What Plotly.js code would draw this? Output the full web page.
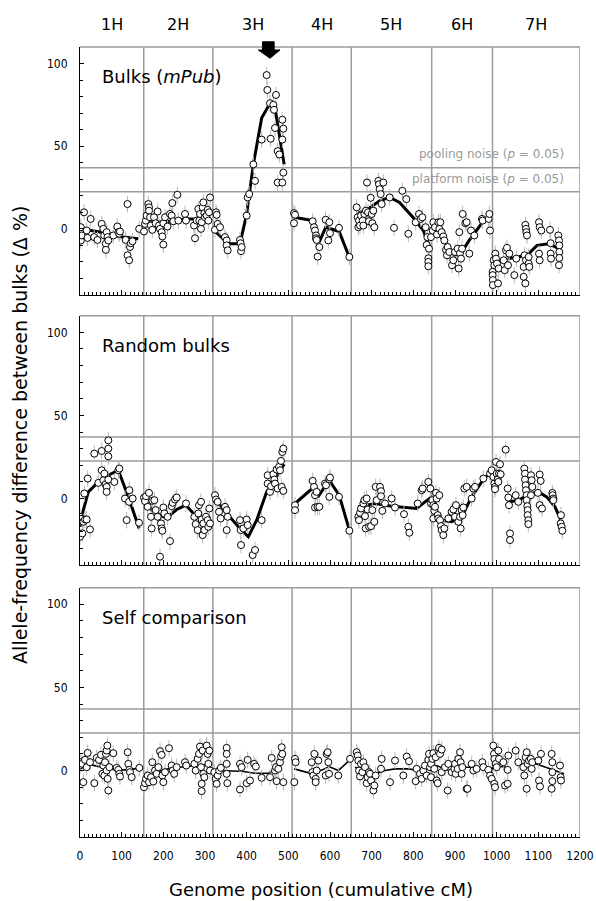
<!DOCTYPE html>
<html><head><meta charset="utf-8">
<script src="https://cdn.plot.ly/plotly-3.0.1.min.js"></script>
<style>html,body{margin:0;padding:0;background:#fff}</style>
</head><body><div id="chart" style="width:596px;height:901px"></div>
<script>
// ---------- data ----------
const chromBounds = [0,153,319,509,651,844,990,1200];
const chromNames = ['1H','2H','3H','4H','5H','6H','7H'];
const panelNames = ['Bulks (<i>mPub</i>)','Random bulks','Self comparison'];
const platformNoise = 22.5;
const poolingNoise = 37;
const peakArrowX = 456;

// Panel 1: bulks (mPub)
const bulkX = [0,2,2,4,9.6,16,18,25.6,34,42,52,56,58,62,62,64,66,68,80,89.6,92,94,96,109.6,114,114,118,120,122,126,142,
 153.6,156,158,160,164,165.6,165.6,168,170,173.6,177.6,181.6,186.4,189.6,192,196,197.6,200,200,204,210,216,220,221.6,224,233.6,236,252,254.4,273.6,276,280,284,286.4,288,290.4,292,294.4,296,298.4,300,304,306.4,308,309.6,312,
 324,326.4,328,330.4,336,348,352,352,354.4,384,385.6,386.4,388,400,402.4,406,416,420,436,448,449.6,456,457.6,464,465.6,468,470.4,474.4,474.4,478.4,485.6,485.6,485.6,488,488,
 513.6,513.6,516,558.4,561.6,564,566.4,566.4,568,570.4,574.4,589.6,596,598.4,600,621.6,646.4,
 664,666.4,668,669.6,672,674.4,678.4,680,682.4,686.4,688.8,691.2,693.6,697.6,700,701.6,704,706.4,716,717.6,719.2,721.6,724,728,743.2,753.6,773.6,783.2,788,805.6,813.6,817.6,821.6,829.6,832,833.6,836,836,836,837.6,
 842.4,846.4,848,852,856.8,860,862.4,864.8,868,872,874.4,878.4,880.8,882.4,886.4,892.8,896,900,906.4,908.8,910.4,912,914.4,916.8,918.4,924.8,928,934.4,938.4,946.4,964.8,966.4,980.8,982.4,984,
 990.4,990.4,991,991,992.8,994.4,996.8,998.4,1000.8,1003.2,1004.8,1016.8,1019.2,1022.4,1024.8,1027.2,1030.4,1042.4,1047.2,1064.8,1064.8,1067,1068.8,1068.8,1070.4,1070.4,1071.2,1072.8,1076.8,1076.8,1078.4,1101.6,1101.6,1103.2,1103.2,1107.2,1128,1129.6,1129.6,1130.4,1148,1149.6,1150.4,1150.4,1150.4,1149.6];
const bulkY = [-2,-7,1,-4,10,-1,-5.5,6,-5,-6.7,3,0,-4,-9,-12.7,-2,-5,-7,-4,1.4,-2,-3,-1.6,-6.7,15,-16,-19,-11,-8.7,-7.5,0,
 -1.6,3,5,8,15,13,11,7,2,-0.6,7,3.4,10.5,2,0,-2,-4.6,-9.5,3.4,7,1.4,9,8,15.6,4.6,20.6,5,9,5,2,-5.7,5,12,5,9,0,4,13,16,9.5,7,8,11.5,5,10,19,
 -0.6,10,8.5,3,1,-5,-7,-10,-13,-6.7,-8.7,-13.5,-11,8,19,21,39,29,54,93,84,76,54.5,75,72,61,81,47,28,45,66,54,28,60.6,34,
 9.5,3.4,8.5,4.6,1,-1,-4,-5.7,-6.7,-16.8,-11,5.5,-7,4,-2.6,0.6,-17,
 13,7,1,5,2,8,5,2,9,11,28,10,4.6,18.8,9,3.4,11,1,29,27,24,21,15,28,19,0.6,23,18,-3,4,9,6,7,1,-9.7,-5,-17.8,-20,-22.6,-12,
 -5,-1,4,1,-3.4,4,0,4,-2,-4.6,-7,-12.7,-16,-11,-14,-22,-19,-14,-12,-24,-2,-14.7,-18,-12,9,3.4,4,-15,-1,-4,6,5,6,9,-1,
 -26,-28,-31,-34,-19,-22,-15,-18,-21,-33,-24,-19,-25,-13,-11.5,-22,-15,-28,-18,-23,-29,-16,-33,2.4,0,-19,-2,-4,-21,-17,-23,4,-15,1,-19,-1,-0.6,-8.7,-15,-18,-4,-7,-10,-14,-17.6,-22];
const bulkLineX = [0,52,92,140,null,153.6,196,228,252,284,312,null,322,340,356,384,400,416,436,454,468,490,null,513.6,558,574,590,622,646,null,664,691,719,743,767,799,824,840,null,842,862,878,898,914,934,966,986,null,989,1005,1029,1053,1077,1097,1125,1149];
const bulkLineY = [0,-2,-4.6,-6,null,5,4,5,6,6,9,null,-1,-5,-9,-9,9,39,67,75,73,39,null,7,5,-8,1,-1.6,-17,null,9,12,17,19,16,7,-1,-12,null,-5,1,-8,-16,-15,-7,4,9,null,-25,-20,-18,-17,-15,-10,-9,-12];

// Panel 2: random bulks
const randX = [0,0,5.6,8,10.4,12,16,18.4,24,34.4,44,52,52,56,58.4,61.6,64,64,68,68,68,68,82.4,92,94.4,108,112,117.6,118.4,126.4,141.6,
 153.6,156,158.4,162.4,165.6,170.4,172,173.6,178.4,181.6,186.4,192,194.4,196,197.6,200,202.4,210.4,216,220,222.4,228,232,254.4,274.4,277.6,282.4,284,285.6,290.4,292,294.4,296,298.4,302.4,306.4,308,310.4,312,
 324,326.4,330.4,333.6,337.6,348,352,352,354.4,384,385.6,386.4,392,400,402.4,414.4,420,436,450.4,450.4,456,458.4,464,466.4,468,472,474.4,477.6,480,482.4,484,485.6,488,488,
 516,516,558.4,561.6,564,568,564,570,574.4,588,590.4,598.4,600,598.4,621.6,646.4,
 668,669.6,672,674.4,680,682.4,684,685.6,688,690.4,693.6,698.4,701.6,706.4,709.6,712,720,722.4,722.4,725.6,732,748,756,777.6,788,790.4,810.4,820,822.4,836,840.8,842.4,
 845.6,848,848,850.4,852,854.4,856,858.4,860,862.4,864,866.4,868,872,874.4,884,892,896,900,902.4,908,912,913.6,916,918.4,920,922.4,928,940,944,948,968,984,988,992,994.4,996,998.4,1000,1002.4,1004,1005.6,1008,1009.6,996,
 1021.6,1026.4,1028,1029.6,1032,1032,1045.6,1052,1066.4,1068,1068,1069.6,1070.4,1072,1072,1073.6,1074.4,1074.4,1076,1076,1082.4,1084,1085.6,1082.4,1103.2,1105.6,1099,1103.2,1108.8,1133.6,1134.4,1136,1136,1154.4,1153.6,1156,1157.6];
const randY = [-11,-23,-21,-14,3,-12.6,-12.6,12,-18.6,27,9.4,28.6,17,11,15,8.6,7,4,35,30,25.4,11.4,10,17,18,0,-13,-2,5,0,-14.6,
 0.6,-1.6,1.4,-5,3.4,-11,-18,-1.4,-1,-7,-11,-35,-15,-18,-19.4,-5.4,-9,-11,-25.6,-4.6,-2.6,-0.6,0.6,-3,-11,-15.4,-19,-9,-4,-2,-12.6,-22,-15,-19,-11,-13,-17,-6,-15,
 2,-0.6,-2,-8,-12,-5,-7,-19,-11,-13,-19,-28,-18,-12.6,-16,-34,-31,-13,14,9,4,7.4,14.6,11.4,9,17.4,6,19,17,22.6,7,28,30,4.6,
 -4,-7,10.6,7,2,4,-5.4,-5,-5,9,8,11.6,12.6,1,1,-19.4,
 -11,-13,-8.6,-6,-3,-1,-10.6,-18,0,-6.6,-17,-16.6,-7,-14,7,-1,7,4.4,1.4,-7.4,-3,0,-5.4,-9.4,-17,-20.6,-3,5,6,10,6,-3,
 -1,-4,-12,-7.4,-5,3.4,0,-10,-12,2,-13,-16.6,-19,-22,-18,-12,-8,-6.6,-11,-4,-14,-11,-18,-7,-10,-5.4,6,7,0,6,7,12,15,17,13,9,7,22,15,11.4,10,15,20.6,14.6,5.6,
 29.4,6,0.6,-4,-21,-25,2,-2,18,15,11.4,8,5,2,-1,-4.6,-7,-10,-13,-15.4,14,11,7,2,14.4,10.6,3.4,-4,-6,3.4,2,0,-1,-10,-15,-17,-19.4];
const randLineX = [0,8,20,44,68,92,116,142,null,153.6,172,200,216,232,254,276,296,314,null,322,340,356,380,404,424,448,468,490,null,516,562,571,598,622,646,null,668,708,748,780,808,828,846,null,845,864,892,916,940,972,992,1004,null,1024,1032,1052,1084,1100,1120,1140,1156];
const randLineY = [-17,-7,4,10,14,17,1,-18,null,-1,-7,-11,-10,-6.6,-4,-10,-13,-12,null,-1,-5,-10,-17,-23,-13,4,12,20.6,null,-3,7,1,11,2,-18.6,null,-5,-3,-4.6,-5.4,-6,-2,1.4,null,1,-13,-14,-11,1,13,15,8,null,0.6,-2,-1,3,4,1,-5,-14];

// Panel 3: self comparison
const selfX = [0,2.4,4.8,8,12,16,18.4,24,34.4,40,45.6,50.4,53.6,56,58.4,60,62.4,64,65.6,64,66.4,68,70.4,80,88,92,94.4,96,114.4,116,118.4,120,124,142.4,
 153.6,156,158.4,162.4,165.6,170.4,173.6,176,180,184,188,192,196,197.6,200,204,213.6,220,222.4,226,232,252,255,274.4,277.6,282.4,285.6,288,290.4,292,292,294.4,296,298.4,304,306.4,308,310.4,312,
 322.4,325.6,328,330.4,334,338,352,352,352,352,353.6,384,388,384,400,402.4,408,418,422,436,456,460,468,470.4,472,476,480,482.4,484,485.6,488,
 514.4,516,517.6,556,562.4,557.6,560,565.6,565.6,568,572,592,594.4,596,589.6,597.6,620,648,
 664,666.4,668,669.6,672,674.4,677.6,680,684,688,690.4,693.6,696,698.4,704,706.4,709.6,722.4,724,744,756,776,784,789.6,805.6,808,816,820,824,828,832,836,837.6,840,
 842.4,842.4,845.6,848,850.4,853.6,856,858.4,860,861.6,864,868,868,876,882.4,884,892,898.4,900,901.6,906.4,908,912,913.6,916,917.6,928,930,940,944,952,965.6,968,980,984,988,
 992,993.6,994.4,994.4,996,997.6,1000,1004,1005.6,1016,1020,1026.4,1028,1026.4,1045.6,1052,1064,1066.4,1069.6,1072,1072,1074.4,1077.6,1082,1085.6,1084,1101.6,1104,1100,1106.4,1132,1133.6,1133.6,1133.6,1132,1152,1153.6,1154.4];
const selfY = [3,5,4,-7,6.4,2,10.6,5,-7.6,7.6,6.4,9.4,-2,3,-3,5,10,12,15,0,-5,-12,2,10.4,1.6,0.4,-2,-3.6,11,4,0.4,-1,-4,1.6,
 -10,-7.6,-5,-3,-7,-4,5,-6.6,0,-2,2,11.6,9.4,-3,-7,-1,13.4,3,0,-2,2,5,3,4,0,7,10,14.4,2,-8,-12.4,12,-2,-4,15,10,4,12,0,
 -1,-5,-8,-3,0,1.6,13.6,10,4,-2,-7.6,4,2,-11.4,-7.6,6.4,-6,4,2.4,-4.4,-4,7.6,0,2,-6.4,1,5,8.4,14,10,-7,
 -7,7,5,5,10,-1,-3,-5,-7,0,6,10,11,5,-3,-2,-3,7,
 11,9,6,0,-3.6,4,-1,5,2,-7.6,-4,-1,-2,-6,-12,-9,-3,1,7,-7,6,-3,8.4,5.6,-6.4,1,-2,-5,0,3,-3,6.4,10,2,
 4,-4,7,10.4,1,8,-6,-7.6,12,13.6,10,12.6,-1,2,-12,4,-1,1,4,-2,1,7,11,5,-2,2,-11,-11,4,0,1,5,2,0.4,-3,-5,
 15,10,7,-8,-10,4,2,12,7,5,-9,-8,9,0.4,12,5,2,-3,8,11,-11,4,6,7,5,1,-6,-9.6,6,10,10,5,-1,-6.4,-11,3,-4,-6];
const selfLineX = [0,28,68,92,116,144,null,154,180,212,252,288,316,null,320,348,388,420,452,472,488,null,514,557.6,581.6,597.6,620,648,null,660,684,708,732,756,788,812,836,null,842,856,884,916,948,980,996,null,992,1004,1028,null,1049.6,1070,1094,1118,1142,1162];
const selfLineY = [3.4,3.4,1,0.4,0.4,1.6,null,-7,-1,1,2.4,3,4,null,0,0,-0.4,-1.6,-1.6,1,5,null,1,-2,0.4,2.4,0,6.4,null,2,0,-2,0,1,1,0,3,null,2,3,0,2,2,2,1,null,2,2.4,2,null,4,3.6,4,2,0,-2];

// ---------- styling ----------
const FONT = '"DejaVu Sans", sans-serif';
const TICKFONT = '"DejaVu Sans Condensed", "DejaVu Sans", sans-serif';
const GREY = '#9b9b9b';
const panels = [
  {px: bulkX, py: bulkY, lx: bulkLineX, ly: bulkLineY, lw: 3, dom: [0.6861, 1]},
  {px: randX, py: randY, lx: randLineX, ly: randLineY, lw: 3, dom: [0.3443, 0.6599]},
  {px: selfX, py: selfY, lx: selfLineX, ly: selfLineY, lw: 1.6, dom: [0, 0.3156]}
];

const traces = [];
const layout = {
  width: 596, height: 901,
  margin: {l: 80, r: 16, t: 47, b: 64},
  paper_bgcolor: '#fff', plot_bgcolor: '#fff',
  showlegend: false,
  font: {family: FONT, color: '#000', size: 12},
  shapes: [], annotations: []
};

panels.forEach((p, i) => {
  const n = i === 0 ? '' : String(i + 1);
  const xa = 'x' + n, ya = 'y' + n;
  traces.push({
    type: 'scatter', mode: 'lines', x: p.lx, y: p.ly, xaxis: xa, yaxis: ya,
    line: {color: '#000', width: p.lw}, connectgaps: false, hoverinfo: 'skip'
  });
  traces.push({
    type: 'scatter', mode: 'markers', x: p.px, y: p.py, xaxis: xa, yaxis: ya,
    marker: {symbol: 'circle', size: 7, color: '#fff', line: {color: '#000', width: 1}},
    error_y: {type: 'constant', value: 5, color: '#b8b8b8', thickness: 1, width: 0}
  });
  layout['xaxis' + n] = {
    domain: [0, 1], anchor: ya, range: [0, 1200],
    showline: true, linecolor: '#000', linewidth: 1,
    ticks: 'inside', ticklen: 5, tickwidth: 1, tickcolor: '#000',
    tick0: 0, dtick: 100, showgrid: false, zeroline: false,
    minor: {dtick: 10, ticks: 'inside', ticklen: 3, tickcolor: '#000', tickwidth: 1, showgrid: false},
    showticklabels: i === 2, tickfont: {family: TICKFONT, size: 12, color: '#000'},
    ticklabelstandoff: 8, fixedrange: true
  };
  layout['yaxis' + n] = {
    domain: p.dom, anchor: xa, range: [-40, 110],
    showline: true, linecolor: '#000', linewidth: 1,
    ticks: 'inside', ticklen: 4, tickwidth: 1, tickcolor: '#000',
    tick0: 0, dtick: 50, showgrid: false, zeroline: false,
    minor: {dtick: 10, ticks: 'inside', ticklen: 3, tickcolor: '#000', tickwidth: 1, showgrid: false},
    tickfont: {family: TICKFONT, size: 12, color: '#000'},
    ticklabelstandoff: 9, fixedrange: true
  };
  chromBounds.slice(1).forEach(b => {
    layout.shapes.push({type: 'line', layer: 'below', xref: xa, yref: ya + ' domain',
      x0: b, x1: b, y0: 0, y1: 1, line: {color: GREY, width: 1.5}});
  });
  [platformNoise, poolingNoise].forEach(v => {
    layout.shapes.push({type: 'line', layer: 'below', xref: xa + ' domain', yref: ya,
      x0: 0, x1: 1, y0: v, y1: v, line: {color: GREY, width: 1.5}});
  });
  layout.shapes.push({type: 'line', layer: 'below', xref: xa + ' domain', yref: ya + ' domain',
    x0: 0, x1: 1, y0: 1, y1: 1, line: {color: GREY, width: 1.5}});
  layout.annotations.push({xref: xa, yref: ya, x: 47, y: 92, xanchor: 'left', yanchor: 'middle',
    text: panelNames[i], showarrow: false, font: {family: FONT, size: 18, color: '#000'}});
});

chromNames.forEach((c, k) => {
  layout.annotations.push({xref: 'x', yref: 'paper', x: (chromBounds[k] + chromBounds[k + 1]) / 2, y: 1.028,
    xanchor: 'center', yanchor: 'middle', text: c, showarrow: false,
    font: {family: FONT, size: 16, color: '#000'}});
});

layout.annotations.push({xref: 'x', yref: 'y', x: 1166, y: 45, xanchor: 'right', yanchor: 'middle',
  text: 'pooling noise (<i>p</i> = 0.05)', showarrow: false, font: {family: FONT, size: 12, color: '#999'}});
layout.annotations.push({xref: 'x', yref: 'y', x: 1166, y: 30.2, xanchor: 'right', yanchor: 'middle',
  text: 'platform noise (<i>p</i> = 0.05)', showarrow: false, font: {family: FONT, size: 12, color: '#999'}});

layout.annotations.push({xref: 'paper', yref: 'paper', x: -0.12, y: 0.509, textangle: -90,
  xanchor: 'center', yanchor: 'middle', showarrow: false,
  text: 'Allele-frequency difference between bulks (\u0394 %)', font: {family: FONT, size: 19, color: '#000'}});
layout.annotations.push({xref: 'paper', yref: 'paper', x: 0.481, y: -0.067,
  xanchor: 'center', yanchor: 'middle', showarrow: false,
  text: 'Genome position (cumulative cM)', font: {family: FONT, size: 18, color: '#000'}});

const a = peakArrowX;
layout.shapes.push({type: 'path', xref: 'x', yref: 'paper', layer: 'above',
  path: `M${a-18},1.0066 L${a+10},1.0066 L${a+10},0.9962 L${a+24},0.9962 L${a},0.9857 L${a-28},0.9962 L${a-18},0.9962 Z`,
  fillcolor: '#000', line: {color: '#000', width: 1}});

Plotly.newPlot('chart', traces, layout, {staticPlot: true, displayModeBar: false});
</script></body></html>
